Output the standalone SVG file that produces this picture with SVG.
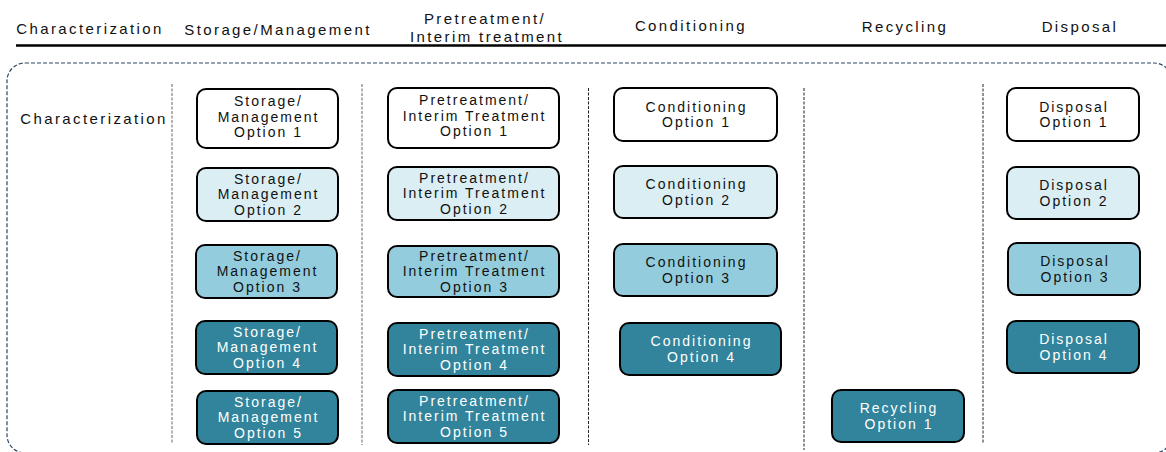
<svg xmlns="http://www.w3.org/2000/svg" width="1166" height="452" viewBox="0 0 1166 452">
<style>
.h{font-family:"Liberation Sans",Arial,sans-serif;font-size:15px;letter-spacing:2.4px;fill:#111;text-anchor:middle}
.t{font-family:"Liberation Sans",Arial,sans-serif;font-size:14px;letter-spacing:2px;fill:#111;text-anchor:middle}
.w{fill:#fff}
.box{stroke:#000;stroke-width:2}
.c0{fill:#ffffff}.c1{fill:#daeef3}.c2{fill:#93cddd}.c3{fill:#31849b}
.sep{stroke:#666;stroke-width:1;stroke-dasharray:3 1.5;fill:none}
</style>
<g id="header">
<text class="h" x="90" y="34">Characterization</text>
<text class="h" x="278" y="34.5">Storage/Management</text>
<text class="h" x="485" y="23.5">Pretreatment/</text>
<text class="h" x="487" y="42">Interim treatment</text>
<text class="h" x="691" y="31">Conditioning</text>
<text class="h" x="905" y="32">Recycling</text>
<text class="h" x="1080" y="32">Disposal</text>
<line x1="16" y1="45.5" x2="1166" y2="45.5" stroke="#000" stroke-width="2.5"/>
</g>
<g id="frame">
<rect x="7" y="63" width="1165" height="390" rx="18" fill="none" stroke="#2e4763" stroke-width="1.2" stroke-dasharray="4 2"/>
</g>
<g id="separators">
<line class="sep" x1="172" y1="84" x2="172" y2="443"/>
<line class="sep" x1="362" y1="84" x2="362" y2="445"/>
<line class="sep" x1="588.5" y1="88" x2="588.5" y2="445" style="stroke:#222"/>
<line class="sep" x1="804" y1="88" x2="804" y2="450" style="stroke:#222"/>
<line class="sep" x1="983" y1="84" x2="983" y2="443" style="stroke:#222"/>
</g>
<g id="characterization">
<text class="h" x="94" y="124">Characterization</text>
</g>
<g id="storage1"><rect class="box c0" x="197" y="89" width="141" height="59" rx="9"/>
<text class="t" x="268.5" y="106">Storage/</text><text class="t" x="268.5" y="121.7">Management</text><text class="t" x="268.5" y="137.3">Option 1</text></g>
<g id="storage2"><rect class="box c1" x="197" y="168" width="141" height="53" rx="9"/>
<text class="t" x="268.5" y="183.5">Storage/</text><text class="t" x="268.5" y="199.2">Management</text><text class="t" x="268.5" y="214.8">Option 2</text></g>
<g id="storage3"><rect class="box c2" x="196" y="245" width="141" height="53" rx="9"/>
<text class="t" x="267.5" y="260.5">Storage/</text><text class="t" x="267.5" y="276.2">Management</text><text class="t" x="267.5" y="291.8">Option 3</text></g>
<g id="storage4"><rect class="box c3" x="196" y="321" width="141" height="53" rx="9"/>
<text class="t w" x="267.5" y="336.5">Storage/</text><text class="t w" x="267.5" y="352.2">Management</text><text class="t w" x="267.5" y="367.8">Option 4</text></g>
<g id="storage5"><rect class="box c3" x="197" y="391" width="141" height="53" rx="9"/>
<text class="t w" x="268.5" y="406.5">Storage/</text><text class="t w" x="268.5" y="422.2">Management</text><text class="t w" x="268.5" y="437.8">Option 5</text></g>
<g id="pre1"><rect class="box c0" x="388" y="88" width="171" height="60" rx="9"/>
<text class="t" x="474.5" y="105">Pretreatment/</text><text class="t" x="474.5" y="120.7">Interim Treatment</text><text class="t" x="474.5" y="136.3">Option 1</text></g>
<g id="pre2"><rect class="box c1" x="388" y="167" width="171" height="53" rx="9"/>
<text class="t" x="474.5" y="182.5">Pretreatment/</text><text class="t" x="474.5" y="198.2">Interim Treatment</text><text class="t" x="474.5" y="213.8">Option 2</text></g>
<g id="pre3"><rect class="box c2" x="388" y="246" width="171" height="51" rx="9"/>
<text class="t" x="474.5" y="260.5">Pretreatment/</text><text class="t" x="474.5" y="276.2">Interim Treatment</text><text class="t" x="474.5" y="291.8">Option 3</text></g>
<g id="pre4"><rect class="box c3" x="388" y="323" width="171" height="53" rx="9"/>
<text class="t w" x="474.5" y="338.5">Pretreatment/</text><text class="t w" x="474.5" y="354.2">Interim Treatment</text><text class="t w" x="474.5" y="369.8">Option 4</text></g>
<g id="pre5"><rect class="box c3" x="388" y="390" width="171" height="53" rx="9"/>
<text class="t w" x="474.5" y="405.5">Pretreatment/</text><text class="t w" x="474.5" y="421.2">Interim Treatment</text><text class="t w" x="474.5" y="436.8">Option 5</text></g>
<g id="cond1"><rect class="box c0" x="614" y="88" width="163" height="53" rx="9"/>
<text class="t" x="696.5" y="111.5">Conditioning</text><text class="t" x="696.5" y="127.2">Option 1</text></g>
<g id="cond2"><rect class="box c1" x="614" y="166" width="163" height="52" rx="9"/>
<text class="t" x="696.5" y="189.3">Conditioning</text><text class="t" x="696.5" y="205">Option 2</text></g>
<g id="cond3"><rect class="box c2" x="614" y="244" width="163" height="52" rx="9"/>
<text class="t" x="696.5" y="267.3">Conditioning</text><text class="t" x="696.5" y="283">Option 3</text></g>
<g id="cond4"><rect class="box c3" x="620" y="323" width="161" height="52" rx="9"/>
<text class="t w" x="701.5" y="346.3">Conditioning</text><text class="t w" x="701.5" y="362">Option 4</text></g>
<g id="rec1"><rect class="box c3" x="832" y="390" width="132" height="52" rx="9"/>
<text class="t w" x="899" y="413.3">Recycling</text><text class="t w" x="899" y="429">Option 1</text></g>
<g id="disp1"><rect class="box c0" x="1007" y="88" width="132" height="53" rx="9"/>
<text class="t" x="1074" y="111.5">Disposal</text><text class="t" x="1074" y="127.2">Option 1</text></g>
<g id="disp2"><rect class="box c1" x="1007" y="167" width="132" height="52" rx="9"/>
<text class="t" x="1074" y="190.3">Disposal</text><text class="t" x="1074" y="206">Option 2</text></g>
<g id="disp3"><rect class="box c2" x="1008" y="243" width="132" height="52" rx="9"/>
<text class="t" x="1075" y="266.3">Disposal</text><text class="t" x="1075" y="282">Option 3</text></g>
<g id="disp4"><rect class="box c3" x="1007" y="321" width="132" height="52" rx="9"/>
<text class="t w" x="1074" y="344.3">Disposal</text><text class="t w" x="1074" y="360">Option 4</text></g>
<g id="connectors"></g>
</svg>
